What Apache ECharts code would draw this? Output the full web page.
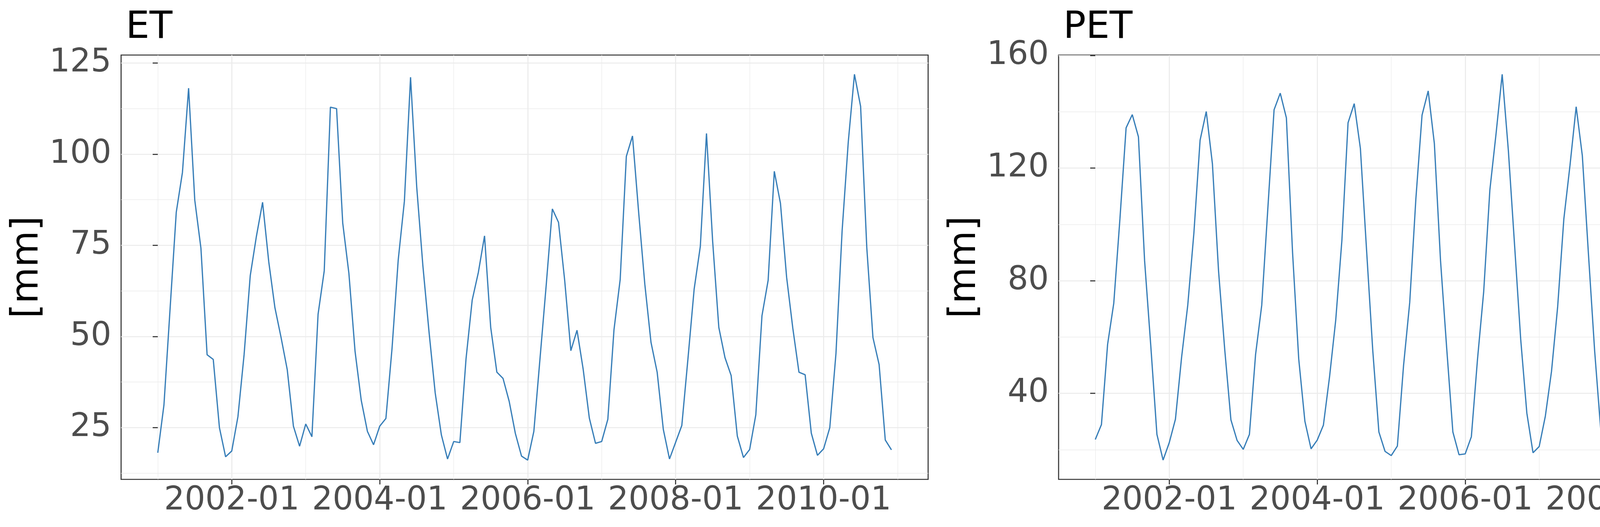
<!DOCTYPE html>
<html>
<head>
<meta charset="utf-8">
<script src="https://cdn.jsdelivr.net/npm/echarts@6/dist/echarts.min.js"></script>
<style>
html,body{margin:0;padding:0;background:#ffffff;}
#chart{width:4800px;height:1350px;}
</style>
</head>
<body>
<div id="chart"></div>
<script>
// ---- data ----
const startYear = 2001;
const nMonths = 120;
const months = [];
for (let i = 0; i < nMonths; i++) {
  const y = startYear + Math.floor(i / 12);
  const m = (i % 12) + 1;
  months.push(y + '-' + (m < 10 ? '0' + m : m));
}

const etValues = [
  18.1, 31.2, 57.7, 84.1, 95.0, 118.1, 87.4, 74.2, 45.0, 43.7, 25.0, 17.0,
  18.6, 28.0, 45.0, 66.7, 77.5, 86.8, 70.5, 57.9, 49.7, 40.9, 25.4, 19.9,
  26.0, 22.5, 56.1, 68.0, 112.9, 112.5, 81.1, 67.3, 45.9, 32.5, 24.0, 20.3,
  25.4, 27.5, 46.8, 71.0, 87.1, 121.1, 91.0, 69.4, 51.2, 34.5, 23.0, 16.4,
  21.2, 20.9, 43.9, 60.0, 67.6, 77.6, 52.5, 40.2, 38.5, 32.2, 23.4, 17.2,
  16.1, 24.0, 44.0, 64.0, 85.0, 81.3, 65.4, 46.1, 51.7, 41.0, 27.6, 20.7,
  21.2, 27.3, 51.9, 65.6, 99.4, 105.0, 84.0, 64.3, 48.4, 40.2, 24.5, 16.4,
  21.0, 25.6, 44.0, 63.0, 74.7, 105.7, 76.1, 52.5, 44.2, 39.3, 22.7, 16.8,
  19.0, 28.5, 55.7, 65.4, 95.3, 86.5, 66.2, 52.3, 40.2, 39.5, 23.5, 17.4,
  19.2, 25.0, 45.3, 79.0, 103.4, 121.9, 113.1, 74.4, 49.7, 42.3, 21.6, 18.9
];

const petValues = [
  23.6, 28.9, 57.4, 72.0, 102.0, 134.3, 139.0, 131.1, 87.1, 57.0, 25.4, 16.3,
  22.5, 30.8, 52.8, 71.3, 97.1, 129.9, 140.1, 121.5, 83.3, 55.5, 30.6, 23.3,
  20.1, 25.4, 53.8, 71.3, 106.0, 140.7, 146.6, 137.8, 90.0, 52.2, 30.1, 20.3,
  23.4, 28.7, 45.9, 66.0, 94.3, 136.1, 142.9, 127.0, 91.0, 55.5, 26.3, 19.4,
  17.9, 21.3, 49.8, 72.2, 109.1, 138.8, 147.4, 128.7, 87.1, 56.0, 26.3, 18.2,
  18.5, 24.6, 52.2, 76.1, 112.2, 132.1, 153.3, 126.3, 93.0, 59.3, 33.0, 18.9,
  21.1, 31.9, 47.8, 70.8, 101.9, 121.0, 141.8, 124.4, 89.2, 55.0, 26.6, 18.9,
  23.2, 32.5, 50.2, 70.0, 95.7, 123.9, 140.2, 127.3, 84.2, 52.6, 24.6, 18.2,
  19.3, 27.3, 51.9, 65.6, 108.6, 132.7, 146.1, 133.2, 88.0, 57.0, 31.8, 20.1,
  20.0, 26.0, 45.9, 74.2, 98.6, 121.5, 149.8, 131.1, 88.0, 52.2, 26.3, 19.1
];

const xMajorLabels = ['2002-01', '2004-01', '2006-01', '2008-01', '2010-01'];
const xMinorLabels = ['2001-01', '2003-01', '2005-01', '2007-01', '2009-01', '2011-01'];
const etMajorTicks = [25, 50, 75, 100, 125];
const etMinorTicks = [12.5, 37.5, 62.5, 87.5, 112.5];
const petMajorTicks = [40, 80, 120, 160];
const petMinorTicks = [20, 60, 100, 140];
const panelTitles = ['ET', 'PET'];
const yTitle = '[mm]';

// ---- helpers ----
function monthIndex(label) {
  const y = parseInt(label.slice(0, 4), 10);
  const m = parseInt(label.slice(5, 7), 10);
  return (y - startYear) * 12 + (m - 1);
}
const xMajor = xMajorLabels.map(monthIndex);
const xMinor = xMinorLabels.map(monthIndex);
const xSpan = nMonths - 1;
const xMin = -0.05 * xSpan;
const xMax = xSpan + 0.05 * xSpan;

function yRange(vals) {
  const lo = Math.min.apply(null, vals), hi = Math.max.apply(null, vals);
  const pad = (hi - lo) * 0.05;
  return [lo - pad, hi + pad];
}
const etRange = yRange(etValues);
const petRange = yRange(petValues);

const FONT = "'DejaVu Sans', sans-serif";
const TICK_COLOR = '#333333';
const LABEL_COLOR = '#4D4D4D';
const GRID_COLOR = '#EBEBEB';
const LINE_COLOR = '#377EB8';

const grids = [
  { left: 310, top: 141, width: 2066, height: 1087 },
  { left: 2710, top: 141, width: 2066, height: 1087 }
];

function makeX(gi) {
  return [
    {
      gridIndex: gi, type: 'value', min: xMin, max: xMax, position: 'bottom',
      axisLine: { show: false },
      axisTick: { show: true, customValues: xMajor, length: 13, lineStyle: { color: TICK_COLOR, width: 2.7 } },
      axisLabel: {
        customValues: xMajor, margin: 14, fontSize: 83, color: LABEL_COLOR, fontFamily: FONT,
        formatter: function (v) { return months[Math.round(v)] || ''; }
      },
      splitLine: { show: true, lineStyle: { color: GRID_COLOR, width: 2.7 } }
    },
    {
      gridIndex: gi, type: 'value', min: xMin, max: xMax, position: 'top',
      axisLine: { show: false },
      axisTick: { show: false, customValues: xMinor },
      axisLabel: { show: false, customValues: xMinor },
      splitLine: { show: true, lineStyle: { color: GRID_COLOR, width: 1.35 } }
    }
  ];
}

function makeY(gi, range, major, minor) {
  return [
    {
      gridIndex: gi, type: 'value', min: range[0], max: range[1], position: 'left',
      axisLine: { show: false },
      axisTick: { show: true, customValues: major, length: 13, lineStyle: { color: TICK_COLOR, width: 2.7 } },
      axisLabel: { customValues: major, margin: 25, fontSize: 83, color: LABEL_COLOR, fontFamily: FONT },
      splitLine: { show: true, lineStyle: { color: GRID_COLOR, width: 2.7 } },
      name: yTitle, nameLocation: 'middle', nameRotate: 90, nameGap: 191,
      nameTextStyle: { fontSize: 96, color: '#000000', fontFamily: FONT }
    },
    {
      gridIndex: gi, type: 'value', min: range[0], max: range[1], position: 'right',
      axisLine: { show: false },
      axisTick: { show: false, customValues: minor },
      axisLabel: { show: false, customValues: minor },
      splitLine: { show: true, lineStyle: { color: GRID_COLOR, width: 1.35 } }
    }
  ];
}

function pairs(vals) {
  return vals.map(function (v, i) { return [i, v]; });
}

const option = {
  animation: false,
  backgroundColor: '#ffffff',
  title: [
    { text: panelTitles[0], left: 317, top: 19, textStyle: { fontSize: 96, fontWeight: 'normal', color: '#000000', fontFamily: FONT } },
    { text: panelTitles[1], left: 2717, top: 19, textStyle: { fontSize: 96, fontWeight: 'normal', color: '#000000', fontFamily: FONT } }
  ],
  grid: grids.map(function (g) {
    return Object.assign({ show: true, borderColor: TICK_COLOR, borderWidth: 2.7, backgroundColor: 'transparent', containLabel: false }, g);
  }),
  xAxis: makeX(0).concat(makeX(1)),
  yAxis: makeY(0, etRange, etMajorTicks, etMinorTicks).concat(makeY(1, petRange, petMajorTicks, petMinorTicks)),
  series: [
    {
      name: panelTitles[0], type: 'line', xAxisIndex: 0, yAxisIndex: 0,
      data: pairs(etValues), showSymbol: false, smooth: false, z: 5,
      lineStyle: { color: LINE_COLOR, width: 3.2 }
    },
    {
      name: panelTitles[1], type: 'line', xAxisIndex: 2, yAxisIndex: 2,
      data: pairs(petValues), showSymbol: false, smooth: false, z: 5,
      lineStyle: { color: LINE_COLOR, width: 3.2 }
    }
  ]
};

const chart = echarts.init(document.getElementById('chart'), null, { renderer: 'canvas' });
chart.setOption(option);
</script>
</body>
</html>
